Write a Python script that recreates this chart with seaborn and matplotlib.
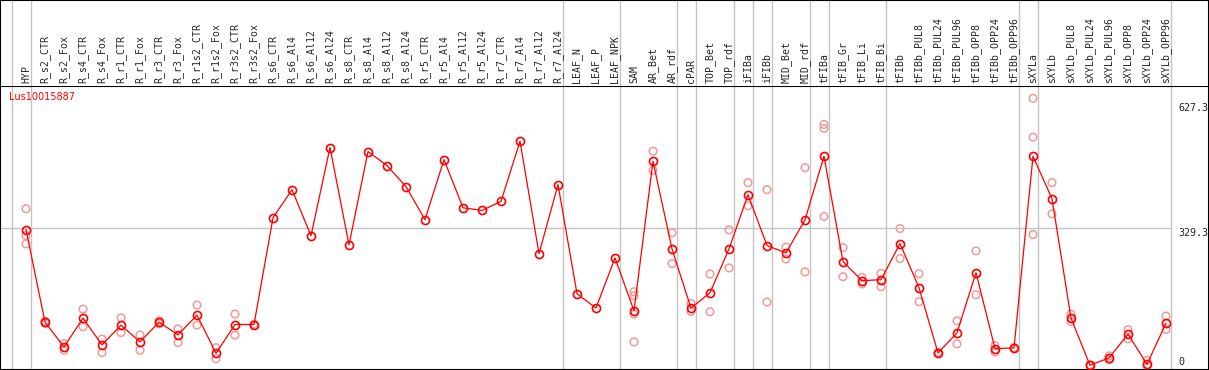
import numpy as np
import pandas as pd
import matplotlib
matplotlib.use("Agg")
import matplotlib.pyplot as plt
import seaborn as sns

NA = np.nan

samples = [
    "HYP", "R_s2_CTR", "R_s2_Fox", "R_s4_CTR", "R_s4_Fox", "R_r1_CTR", "R_r1_Fox",
    "R_r3_CTR", "R_r3_Fox", "R_r1s2_CTR", "R_r1s2_Fox", "R_r3s2_CTR", "R_r3s2_Fox",
    "R_s6_CTR", "R_s6_Al4", "R_s6_Al12", "R_s6_Al24", "R_s8_CTR", "R_s8_Al4",
    "R_s8_Al12", "R_s8_Al24", "R_r5_CTR", "R_r5_Al4", "R_r5_Al12", "R_r5_Al24",
    "R_r7_CTR", "R_r7_Al4", "R_r7_Al12", "R_r7_Al24", "LEAF_N", "LEAF_P", "LEAF_NPK",
    "SAM", "AR_Bet", "AR_rdf", "cPAR", "TOP_Bet", "TOP_rdf", "iFIBa", "iFIBb",
    "MID_Bet", "MID_rdf", "tFIBa", "tFIB_Gr", "tFIB_Li", "tFIB_Bi", "tFIBb",
    "tFIBb_PUL8", "tFIBb_PUL24", "tFIBb_PUL96", "tFIBb_OPP8", "tFIBb_OPP24", "tFIBb_OPP96",
    "sXYLa", "sXYLb", "sXYLb_PUL8", "sXYLb_PUL24", "sXYLb_PUL96", "sXYLb_OPP8",
    "sXYLb_OPP24", "sXYLb_OPP96",
]

# mean expression per sample
means = [
    326.8, 106.8, 47.9, 116.3, 52.7, 99.6, 59.8, 106.8, 76.5, 123.5, 32.9, 101.1, 101.1,
    354.7, 421.5, 312.0, 521.6, 290.3, 512.0, 478.7, 428.6, 350.2, 493.0, 378.5, 372.1,
    393.6, 536.6, 269.6, 433.4, 174.3, 140.2, 259.4,
    133.7, 488.9, 280.8, 140.2, 176.6, 280.8, 409.5, 288.7, 271.3, 349.9, 500.8, 250.5,
    205.2, 207.6, 293.4, 188.6, 33.6, 81.3, 224.3, 43.9, 45.5, 500.8, 400.0, 116.3,
    4.3, 21.7, 78.2, 6.7, 104.4,
]

# individual replicates (NaN where a sample has fewer)
rep1 = [376.2, 104, 55.8, 137.8, 66.3, 117.0, 76.5, 110, 90.8, 147.3, 46.2, 125.9, 102] + [NA] * 19 + [
    179.0, 512.8, 319.0, 151.1, 221.2, 326.1, 438.1, 421.5, 284.6, 473.9, 576.4, 283.9,
    213.1, 222.6, 329.2, 221.9, 35, 109.9, 276.0, 51.0, 46.5, 638.4, 438.1, 125.9,
    5, 26.5, 89.2, 16.2, 121.1]
rep2 = [312.5, 109, 40.0, 95.6, 34.3, 82.0, 40.0, 103, 58.2, 99.6, 20.0, 75.8, 100] + [NA] * 19 + [
    169.5, 467.5, 245.8, 132.1, 131.3, 235.5, 383.3, 154.5, 257.0, 226.0, 566.9, 214.8,
    197.4, 190.9, 257.7, 155.2, 32, 55.1, 171.9, 36.0, 44.5, 546.1, 364.2, 108.2,
    3.5, 17, 67.0, 1.9, 89.2]
rep3 = [292.7] + [NA] * 31 + [125.9] + [NA] * 9 + [357.8] + [NA] * 10 + [314.9] + [NA] * 7
rep4 = [NA] * 32 + [59.8] + [NA] * 28

# first sample of each tissue group (grey separators)
group_starts = [0, 1, 29, 32, 35, 36, 38, 39, 40, 42, 43, 46, 53, 54, 61]

gene = "Lus10015887"
ref_value = 329.3
top_value = 627.3

pos = np.arange(len(samples))
df_mean = pd.DataFrame({"pos": pos, "value": means})
df_rep = pd.DataFrame({"pos": pos, "r1": rep1, "r2": rep2, "r3": rep3, "r4": rep4})
df_rep = df_rep.melt(id_vars="pos", value_name="value").dropna()

sns.set_style("white")
W, H = 1209, 370
fig = plt.figure(figsize=(W / 100, H / 100), dpi=100)

head_px = 86
x0, x1 = (0 - 26) / 19, (W - 26) / 19
ax = fig.add_axes([0, 0, 1, (H - head_px) / H])
axh = fig.add_axes([0, (H - head_px) / H, 1, head_px / H], sharex=ax)

grey = "#c4c4c4"
seps = [g - 0.737 for g in group_starts]
for a in (ax, axh):
    for s in seps:
        a.axvline(s, color=grey, lw=1, zorder=0)
    a.set_xticks([])
    a.set_yticks([])

ax.hlines(ref_value, x0, seps[-1], color=grey, lw=1, zorder=0)

sns.scatterplot(data=df_rep, x="pos", y="value", ax=ax, marker="o", s=30,
                facecolors="none", edgecolor="#f09a9a", linewidth=1.1, zorder=2)
sns.lineplot(data=df_mean, x="pos", y="value", ax=ax, color="red", lw=0.9,
             marker="o", markersize=5.8, markerfacecolor="none", markeredgecolor="red",
             markeredgewidth=1.2, sort=False, estimator=None, zorder=3)

ax.set_xlim(x0, x1)
ax.set_ylim((366.1 - (H - 1)) * 2.3838, (366.1 - head_px) * 2.3838)
ax.set_xlabel("")
ax.set_ylabel("")

mono = "DejaVu Sans Mono"
ax.text(60.63, top_value, f"{top_value:.1f}", fontsize=7.2, family=mono, va="top", ha="left")
ax.text(60.63, ref_value, f"{ref_value:.1f}", fontsize=7.2, family=mono, va="top", ha="left")
ax.text(60.63, 0, "0", fontsize=7.2, family=mono, va="bottom", ha="left")

axh.set_ylim(0, 1)
for i, name in enumerate(samples):
    axh.text(i, 3 / head_px, name, rotation=90, ha="center", va="bottom",
             fontsize=7.1, family=mono)

fig.text(9 / W, (H - 97) / H, gene, color="red", fontsize=7, va="center", ha="left",
         family="DejaVu Sans")

for a in (ax, axh):
    for sp in a.spines.values():
        sp.set_color("black")
        sp.set_linewidth(1.5)
axh.spines["bottom"].set_visible(False)

fig.savefig("out.png", dpi=100)
